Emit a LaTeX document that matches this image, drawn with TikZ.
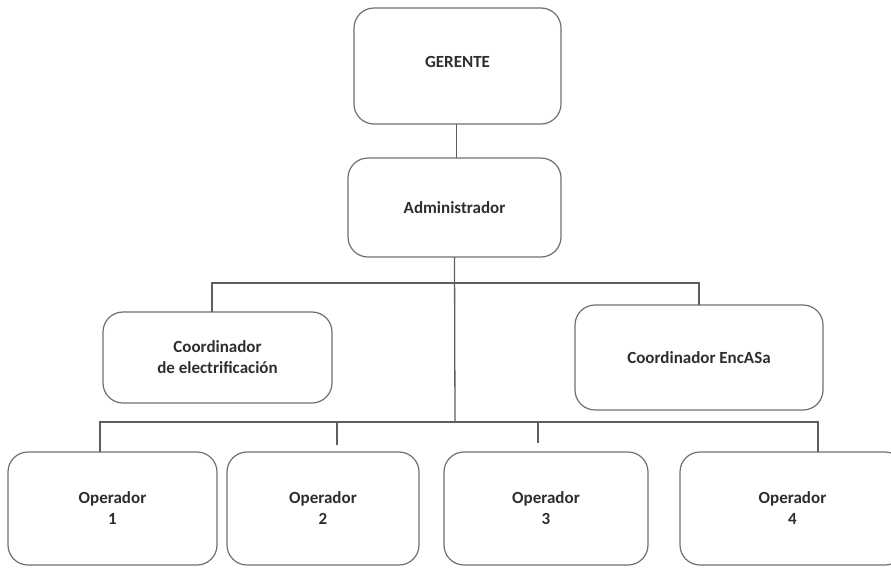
\documentclass[tikz,border=0pt]{standalone}
\usepackage{fontspec}
\setmainfont{Carlito}
\definecolor{boxgray}{HTML}{6E6E6E}
\definecolor{linegray}{HTML}{5E5E5E}
\definecolor{inkgray}{HTML}{2E2E2E}
\begin{document}
\begin{tikzpicture}[x=1pt,y=-1pt,
  box/.style={draw=boxgray, line width=1.2pt, rounded corners=20pt,
    inner sep=0pt, outer sep=0pt, align=center, text=inkgray,
    font=\bfseries\fontsize{17}{21}\selectfont},
  link/.style={draw=linegray, line width=1.3pt}]
\useasboundingbox (0,0) rectangle (891,568);
\clip (0,0) rectangle (891,568);

% top levels
\node[box, minimum width=207pt, minimum height=116pt] (ger) at (457.5,66)
  {\raisebox{9pt}{GERENTE}};
\node[box, minimum width=213pt, minimum height=99pt] (adm) at (454.5,207.5)
  {Administrador};

% coordinators
\node[box, minimum width=229pt, minimum height=91pt] (coel) at (217.5,357.5)
  {Coordinador\\de electrificación};
\node[box, minimum width=248pt, minimum height=105pt] (coen) at (699,357.5)
  {Coordinador EncASa};

% operators
\node[box, minimum width=209pt, minimum height=113pt] (op1) at (112.5,508.5)
  {Operador\\1};
\node[box, minimum width=192pt, minimum height=113pt] (op2) at (323,508.5)
  {Operador\\2};
\node[box, minimum width=204pt, minimum height=113pt] (op3) at (546,508.5)
  {Operador\\3};
\node[box, minimum width=225pt, minimum height=113pt] (op4) at (792.5,508.5)
  {Operador\\4};

% bus lines
\coordinate (cbus) at (455,283);
\coordinate (obus) at (455,422);

\draw[link] ([xshift=-1pt]ger.south) -- ([xshift=-1pt]ger.south |- adm.north);
\draw[link] (adm.south) -- (obus);
\draw[link] ([xshift=-5.5pt]coel.north) |- (cbus) -| (coen.north);
\draw[link] ([xshift=-12.5pt]op1.north) |- (obus) -| ([xshift=25.5pt]op4.north);
\draw[link] ([xshift=14pt]op2.north |- obus) -- ++(0,23);
\draw[link] ([xshift=-8pt]op3.north |- obus) -- ++(0,21);
\end{tikzpicture}
\end{document}
